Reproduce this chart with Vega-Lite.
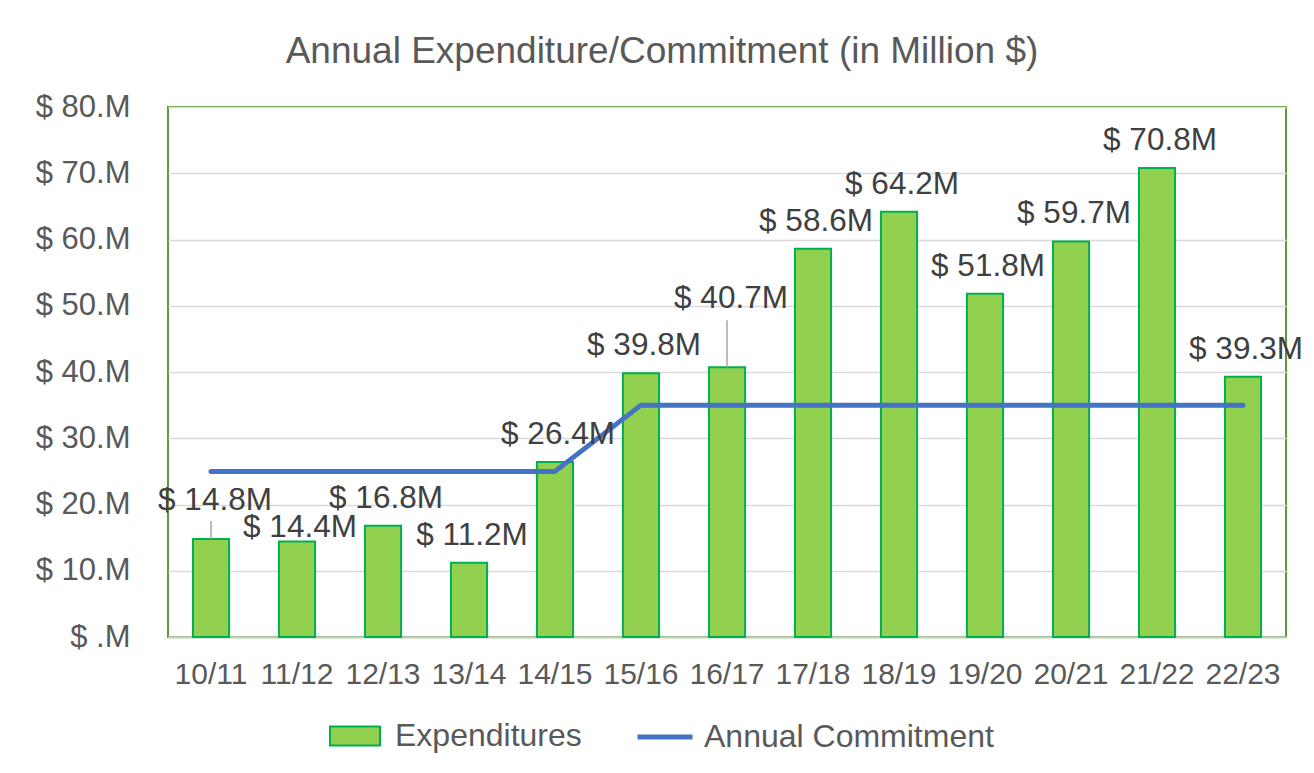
{
  "$schema": "https://vega.github.io/schema/vega-lite/v6.json",
  "width": 1118,
  "height": 530,
  "autosize": {"type": "none"},
  "padding": {"left": 168, "top": 107, "right": 28, "bottom": 136},
  "background": "white",
  "title": {
    "text": "Annual Expenditure/Commitment (in Million $)",
    "font": "Liberation Sans",
    "fontSize": 37,
    "fontWeight": "normal",
    "color": "#595959",
    "anchor": "middle",
    "frame": "group",
    "dx": -65,
    "dy": 52,
    "baseline": "alphabetic",
    "offset": 43
  },
  "config": {
    "font": "Liberation Sans",
    "view": {"stroke": "#5E9A3A", "strokeWidth": 2},
    "axis": {
      "labelFont": "Liberation Sans",
      "labelColor": "#595959",
      "ticks": false,
      "title": null
    },
    "legend": {
      "labelFont": "Liberation Sans",
      "labelFontSize": 32,
      "labelColor": "#595959",
      "labelLimit": 500,
      "title": null,
      "orient": "none",
      "direction": "horizontal"
    }
  },
  "data": {
    "values": [
      {"year": "10/11", "exp": 14.8, "commit": 25},
      {"year": "11/12", "exp": 14.4, "commit": 25},
      {"year": "12/13", "exp": 16.8, "commit": 25},
      {"year": "13/14", "exp": 11.2, "commit": 25},
      {"year": "14/15", "exp": 26.4, "commit": 25},
      {"year": "15/16", "exp": 39.8, "commit": 35},
      {"year": "16/17", "exp": 40.7, "commit": 35},
      {"year": "17/18", "exp": 58.6, "commit": 35},
      {"year": "18/19", "exp": 64.2, "commit": 35},
      {"year": "19/20", "exp": 51.8, "commit": 35},
      {"year": "20/21", "exp": 59.7, "commit": 35},
      {"year": "21/22", "exp": 70.8, "commit": 35},
      {"year": "22/23", "exp": 39.3, "commit": 35}
    ]
  },
  "encoding": {
    "x": {
      "field": "year",
      "type": "nominal",
      "sort": null,
      "scale": {"paddingInner": 0.58, "paddingOuter": 0.29},
      "axis": {
        "labelAngle": 0,
        "labelFontSize": 30,
        "labelPadding": 22,
        "domainColor": "#C9D3C0",
        "domainWidth": 2,
        "grid": false
      }
    }
  },
  "layer": [
    {
      "mark": {"type": "bar", "stroke": "#00B050", "strokeWidth": 2},
      "encoding": {
        "y": {
          "field": "exp",
          "type": "quantitative",
          "scale": {"domain": [0, 80], "nice": false},
          "axis": {
            "values": [0, 10, 20, 30, 40, 50, 60, 70, 80],
            "labelFontSize": 31,
            "labelPadding": 38,
            "domain": false,
            "gridColor": "#D9D9D9",
            "gridWidth": 1.5,
            "labelExpr": "'$ ' + (datum.value == 0 ? '' : datum.value) + '.M'"
          }
        },
        "fill": {
          "datum": "Expenditures",
          "type": "nominal",
          "scale": {"domain": ["Expenditures"], "range": ["#92D050"]},
          "legend": {
            "legendX": 161,
            "legendY": 603,
            "symbolType": "M-1,-0.38H1V0.38H-1Z",
            "symbolSize": 2500,
            "symbolStrokeColor": "#00B050",
            "symbolStrokeWidth": 2,
            "labelOffset": 14
          }
        }
      }
    },
    {
      "mark": {"type": "line", "strokeWidth": 5, "strokeCap": "round", "strokeJoin": "round"},
      "encoding": {
        "y": {"field": "commit", "type": "quantitative"},
        "stroke": {
          "datum": "Annual Commitment",
          "type": "nominal",
          "scale": {"domain": ["Annual Commitment"], "range": ["#4472C4"]},
          "legend": {
            "legendX": 467,
            "legendY": 600,
            "symbolType": "stroke",
            "symbolSize": 3025,
            "symbolStrokeWidth": 5,
            "labelOffset": 9
          }
        }
      }
    },
    {
      "transform": [{"filter": "datum.year === '10/11'"}],
      "mark": {"type": "rule", "color": "#A6A6A6", "strokeWidth": 1.5, "y2Offset": -18},
      "encoding": {
        "y": {"field": "exp", "type": "quantitative"},
        "y2": {"field": "exp"}
      }
    },
    {
      "transform": [{"filter": "datum.year === '16/17'"}],
      "mark": {"type": "rule", "color": "#A6A6A6", "strokeWidth": 1.5, "y2Offset": -47},
      "encoding": {
        "y": {"field": "exp", "type": "quantitative"},
        "y2": {"field": "exp"}
      }
    },
    {
      "transform": [
        {"filter": "indexof(['10/11', '11/12', '16/17'], datum.year) < 0"},
        {"calculate": "'$ ' + format(datum.exp, '.1f') + 'M'", "as": "label"}
      ],
      "mark": {"type": "text", "font": "Liberation Sans", "fontSize": 31.5, "color": "#404040", "baseline": "alphabetic", "dy": -18, "dx": 3},
      "encoding": {
        "y": {"field": "exp", "type": "quantitative"},
        "text": {"field": "label", "type": "nominal"}
      }
    },
    {
      "transform": [
        {"filter": "datum.year === '10/11'"},
        {"calculate": "'$ ' + format(datum.exp, '.1f') + 'M'", "as": "label"}
      ],
      "mark": {"type": "text", "font": "Liberation Sans", "fontSize": 31.5, "color": "#404040", "baseline": "alphabetic", "dy": -29, "dx": 4},
      "encoding": {
        "y": {"field": "exp", "type": "quantitative"},
        "text": {"field": "label", "type": "nominal"}
      }
    },
    {
      "transform": [
        {"filter": "datum.year === '11/12'"},
        {"calculate": "'$ ' + format(datum.exp, '.1f') + 'M'", "as": "label"}
      ],
      "mark": {"type": "text", "font": "Liberation Sans", "fontSize": 31.5, "color": "#404040", "baseline": "alphabetic", "dy": -5, "dx": 3},
      "encoding": {
        "y": {"field": "exp", "type": "quantitative"},
        "text": {"field": "label", "type": "nominal"}
      }
    },
    {
      "transform": [
        {"filter": "datum.year === '16/17'"},
        {"calculate": "'$ ' + format(datum.exp, '.1f') + 'M'", "as": "label"}
      ],
      "mark": {"type": "text", "font": "Liberation Sans", "fontSize": 31.5, "color": "#404040", "baseline": "alphabetic", "dy": -59, "dx": 4},
      "encoding": {
        "y": {"field": "exp", "type": "quantitative"},
        "text": {"field": "label", "type": "nominal"}
      }
    }
  ]
}
